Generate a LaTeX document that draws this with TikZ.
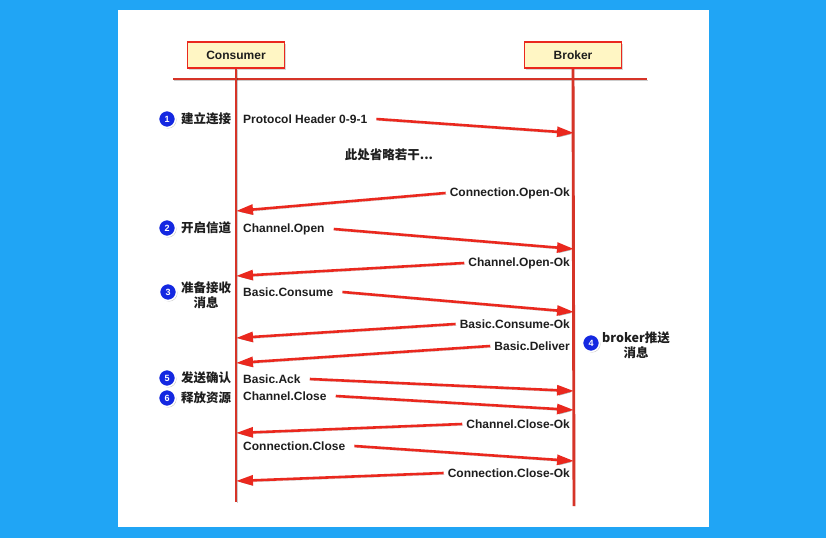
\documentclass[tikz,border=0pt]{standalone}
\usepackage{fontspec}
\setmainfont{Liberation Sans}
\newfontfamily\cjk{Noto Sans CJK SC}
\usepackage{xcolor}
\usetikzlibrary{arrows.meta,positioning,shadows}
\definecolor{bgblue}{RGB}{32,165,245}
\definecolor{msgred}{RGB}{234,40,30}
\definecolor{lifered}{RGB}{214,52,40}
\definecolor{boxfill}{RGB}{255,246,196}
\definecolor{dotblue}{RGB}{20,40,225}
\definecolor{txtgray}{RGB}{30,30,30}

\begin{document}
\begin{tikzpicture}[x=1pt,y=-1pt,>=Latex,
  actor/.style={draw=msgred,fill=boxfill,line width=1.8pt,minimum width=97pt,minimum height=26pt,
    font=\fontsize{12}{14}\selectfont\bfseries,text=txtgray,drop shadow={opacity=.3,shadow xshift=1.5pt,shadow yshift=-1.5pt}},
  life/.style={lifered,line width=2.9pt,preaction={draw=black,opacity=.2,transform canvas={shift={(1pt,-1pt)}}}},
  msg/.style={msgred,line width=2.6pt,-{Triangle[length=17pt,width=10pt]},
    preaction={draw=black,opacity=.22,transform canvas={shift={(1pt,-1.5pt)}}}},
  msglabel/.style={inner sep=0pt,font=\fontsize{12}{14}\selectfont\bfseries,text=txtgray},
  steptext/.style={inner sep=0pt,font=\cjk\fontsize{12.5}{15}\selectfont\bfseries,text=txtgray,align=center},
  numdot/.style={circle,fill=dotblue,draw=white,line width=1.5pt,minimum size=17pt,inner sep=0pt,
    text=white,font=\fontsize{9}{9}\selectfont\bfseries,drop shadow={opacity=.4,shadow xshift=1pt,shadow yshift=-1pt}}]
% ---------- 背景 ----------
\useasboundingbox (0,0) rectangle (826,538);
\fill[bgblue] (0,0) rectangle (826,538);
\fill[white] (118,10) rectangle (709,527);
% ---------- 参与者与生命线 ----------
\node[actor] (cons) at (236,55) {Consumer};
\node[actor] (brk) at (573,55) {Broker};
\coordinate (barl) at (173,79);
\coordinate (barr) at (647,79);
\coordinate (consend) at (236,502);
\coordinate (brkend) at (574,506);
\draw[life] (barl) -- (barr);
\draw[life] (cons.south) -- (consend);
\draw[life] (brk.south) -- (brkend);
% ---------- Consumer -> Broker ----------
\foreach \n/\y/\ty/\txt in {1/119/133/Protocol Header 0-9-1,2/229/249/Channel.Open,3/292/312/Basic.Consume,
  4/379/391/Basic.Ack,5/396/410/Channel.Close,6/446/461/Connection.Close}{
  \node[msglabel,anchor=west] (req\n) at (243,\y) {\txt};
  \coordinate (reqtip\n) at (574,\ty);
  \draw[msg] ([xshift=9pt]req\n.east) -- (reqtip\n);
}
% ---------- Broker -> Consumer ----------
\foreach \n/\y/\ty/\txt in {1/193/211/Connection.Open-Ok,2/263/276/Channel.Open-Ok,3/324/338/Basic.Consume-Ok,
  4/346/363/Basic.Deliver,5/424/433/Channel.Close-Ok,6/473/481/Connection.Close-Ok}{
  \node[msglabel,anchor=east] (rep\n) at (570,\y) {\txt};
  \coordinate (reptip\n) at (236,\ty);
  \draw[msg] ([xshift=-4pt]rep\n.west) -- (reptip\n);
}
\node[steptext] (omit) at (389,155) {此处省略若干...};
% ---------- 步骤编号 ----------
\node[numdot] (d1) at (167,119) {1};
\node[steptext,anchor=west] (s1) at (181,119) {建立连接};
\node[numdot] (d2) at (167,228) {2};
\node[steptext,anchor=west] (s2) at (181,228) {开启信道};
\node[numdot] (d3) at (168,292) {3};
\node[steptext] (s3) at (206,295) {准备接收\\消息};
\node[numdot] (d4) at (591,343) {4};
\node[steptext] (s4) at (636,345) {broker推送\\消息};
\node[numdot] (d5) at (167,378) {5};
\node[steptext,anchor=west] (s5) at (181,378) {发送确认};
\node[numdot] (d6) at (167,398) {6};
\node[steptext,anchor=west] (s6) at (181,398) {释放资源};
\end{tikzpicture}
\end{document}
